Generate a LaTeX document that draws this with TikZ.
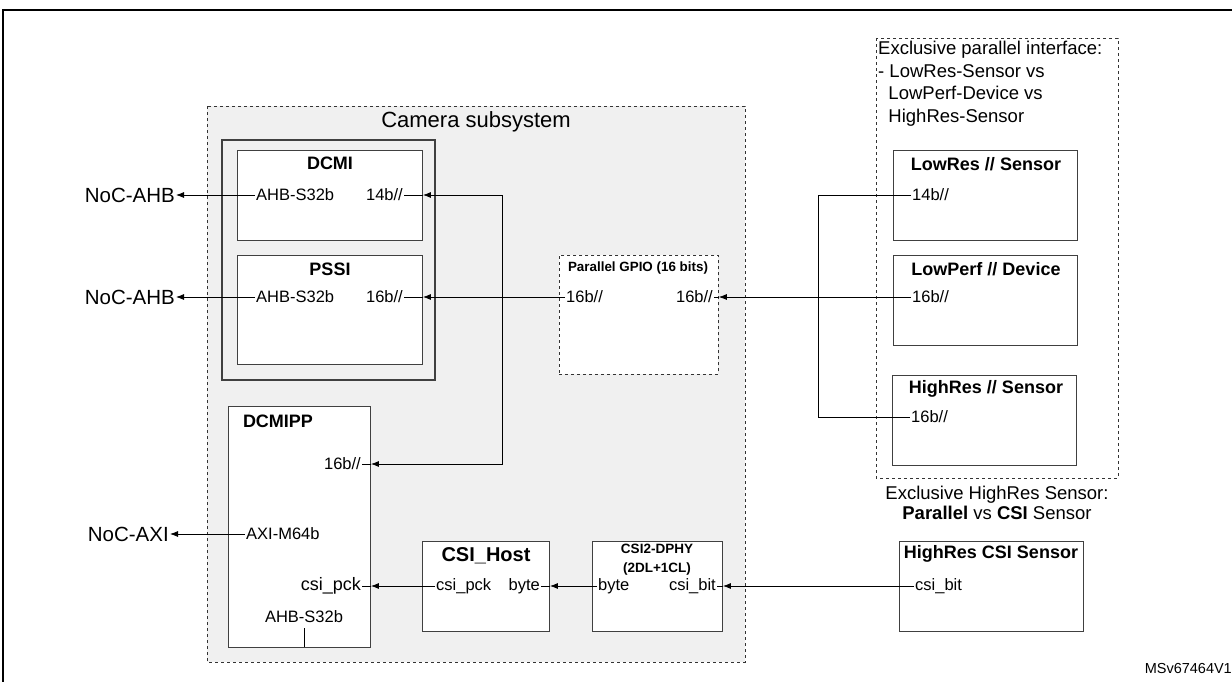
\documentclass[tikz,border=0pt]{standalone}
\usepackage{fontspec}
\setmainfont{Liberation Sans}
\usetikzlibrary{arrows.meta}
\begin{document}
\begin{tikzpicture}[x=1pt,y=-1pt,
  box/.style={draw=black!75,line width=0.9pt},
  dbox/.style={draw=black!80,dashed,line width=0.8pt},
  port/.style={inner sep=1pt,font=\fontsize{16.5}{18}\selectfont},
  ext/.style={inner sep=1pt,font=\fontsize{20.5}{22}\selectfont},
  ttl/.style={inner sep=0pt,font=\bfseries\fontsize{18}{20}\selectfont},
  arr/.style={-{Latex[length=8pt,width=6pt]},line width=0.8pt},
  ln/.style={line width=0.8pt}]
\useasboundingbox (0,0) rectangle (1232,681);
\draw[line width=1.6pt] (3,10) rectangle (1240,690);
% camera subsystem
\draw[dbox,fill=black!6] (207,106) rectangle (745,662);
\node[font=\fontsize{22}{24}\selectfont] (cam) at (476,122) {Camera subsystem};
% DCMI / PSSI group
\draw[box,line width=1.4pt] (222,140) rectangle (435,380);
\node[box,fill=white,minimum width=185pt,minimum height=90pt,anchor=north west] (dcmi) at (237,150) {};
\node[ttl] (dcmit) at (330,163) {DCMI};
\node[box,fill=white,minimum width=185pt,minimum height=109pt,anchor=north west] (pssi) at (237,255) {};
\node[ttl] (pssit) at (330,269) {PSSI};
\node[port,anchor=west] (dahb) at (255,195) {AHB-S32b};
\node[port,anchor=east] (d14) at (404,195) {14b//};
\node[port,anchor=west] (pahb) at (255,297) {AHB-S32b};
\node[port,anchor=east] (p16) at (404,297) {16b//};
\node[ext,anchor=east] (noc1) at (176,195) {NoC-AHB};
\node[ext,anchor=east] (noc2) at (176,297) {NoC-AHB};
\draw[arr] (dahb.west) -- (noc1.east);
\draw[arr] (pahb.west) -- (noc2.east);
% DCMIPP
\node[box,fill=white,minimum width=142pt,minimum height=241pt,anchor=north west] (dcmipp) at (228,406) {};
\node[ttl] (dcmippt) at (278,421) {DCMIPP};
\node[port,anchor=east] (m16) at (362,464) {16b//};
\node[port,anchor=west] (maxi) at (245,534) {AXI-M64b};
\node[port,anchor=east,font=\fontsize{18}{20}\selectfont] (mpck) at (362,586) {csi\_pck};
\node[port,anchor=south] (mahb) at (304,624) {AHB-S32b};
\coordinate (mahbb) at (304,647);
\draw[ln] (mahb.south) ++(0,4) -- (mahbb);
\node[ext,anchor=east] (noc3) at (170,534) {NoC-AXI};
\draw[arr] (maxi.west) -- (noc3.east);
% vertical bus to DCMI and DCMIPP
\coordinate (bt) at (502,195);
\coordinate (bb) at (502,464);
\draw[ln] (dcmi.east |- d14) -- (d14.east);
\draw[ln] (dcmipp.east |- m16) -- (m16.east);
\draw[arr] (bb) -- (bt) -- (dcmi.east |- d14);
\draw[arr] (bt) -- (bb) -- (dcmipp.east |- m16);
% Parallel GPIO
\node[dbox,fill=white,minimum width=159pt,minimum height=119pt,anchor=north west] (gpio) at (559,255) {};
\node[inner sep=0pt,font=\bfseries\fontsize{13.4}{15}\selectfont] (gpiot) at (638,268) {Parallel GPIO (16 bits)};
\node[port,anchor=west] (g16l) at (565,297) {16b//};
\node[port,anchor=east] (g16r) at (714,297) {16b//};
\draw[ln] (pssi.east |- p16) -- (p16.east);
\draw[arr] (g16l.west) -- (pssi.east |- p16);
\draw[ln] (gpio.east |- g16r) -- (g16r.east);
% CSI host and DPHY
\node[box,fill=white,minimum width=127pt,minimum height=90pt,anchor=north west] (host) at (422,541) {};
\node[inner sep=0pt,font=\bfseries\fontsize{20}{22}\selectfont] (hostt) at (486,556) {CSI\_Host};
\node[port,anchor=west] (hpck) at (435,586) {csi\_pck};
\node[port,anchor=east] (hbyte) at (541,586) {byte};
\node[box,fill=white,minimum width=130pt,minimum height=90pt,anchor=north west] (dphy) at (592,541) {};
\node[inner sep=0pt,align=center,font=\bfseries\fontsize{13.5}{19}\selectfont] (dphyt) at (657,560) {CSI2-DPHY\\(2DL+1CL)};
\node[port,anchor=west] (dbyte) at (597,586) {byte};
\node[port,anchor=east] (dbit) at (717,586) {csi\_bit};
\draw[arr] (hpck.west) -- (dcmipp.east |- mpck);
\draw[ln] (dcmipp.east |- mpck) -- (mpck.east);
\draw[arr] (dbyte.west) -- (host.east |- hbyte);
\draw[ln] (host.east |- hbyte) -- (hbyte.east);
\draw[ln] (dphy.east |- dbit) -- (dbit.east);
% Exclusive parallel interface
\draw[dbox] (876,38) rectangle (1118,478);
\node[anchor=north west,align=left,inner sep=0pt,font=\fontsize{18.5}{22.5}\selectfont] (extxt) at (878,41) {Exclusive parallel interface:\\- LowRes-Sensor vs\\\ \ LowPerf-Device vs\\\ \ HighRes-Sensor};
\node[box,fill=white,minimum width=184pt,minimum height=90pt,anchor=north west] (lowres) at (893,150) {};
\node[ttl] (lowrest) at (986,164) {LowRes // Sensor};
\node[port,anchor=west] (l14) at (911,195) {14b//};
\node[box,fill=white,minimum width=184pt,minimum height=90pt,anchor=north west] (lowperf) at (893,255) {};
\node[ttl] (lowperft) at (986,269) {LowPerf // Device};
\node[port,anchor=west] (lp16) at (911,297) {16b//};
\node[box,fill=white,minimum width=184pt,minimum height=90pt,anchor=north west] (highres) at (892,375) {};
\node[ttl] (highrest) at (986,389) {HighRes // Sensor};
\node[port,anchor=west] (h16) at (910,417) {16b//};
\coordinate (jt) at (818,195);
\coordinate (jb) at (818,417);
\draw[ln] (l14.west) -- (jt) -- (jb) -- (h16.west);
\draw[arr] (lp16.west) -- (gpio.east |- g16r);
% Exclusive HighRes sensor
\node[align=center,inner sep=0pt,font=\fontsize{18.5}{20}\selectfont] (exh) at (997,503) {Exclusive HighRes Sensor:\\\textbf{Parallel} vs \textbf{CSI} Sensor};
\node[box,fill=white,minimum width=184pt,minimum height=90pt,anchor=north west] (csis) at (899,541) {};
\node[ttl] (csist) at (991,554) {HighRes CSI Sensor};
\node[port,anchor=west] (cbit) at (914,586) {csi\_bit};
\draw[arr] (cbit.west) -- (dphy.east |- dbit);
\node[anchor=east,inner sep=0pt,font=\fontsize{14.5}{16}\selectfont] (ms) at (1232,668) {MSv67464V1};
\end{tikzpicture}
\end{document}
